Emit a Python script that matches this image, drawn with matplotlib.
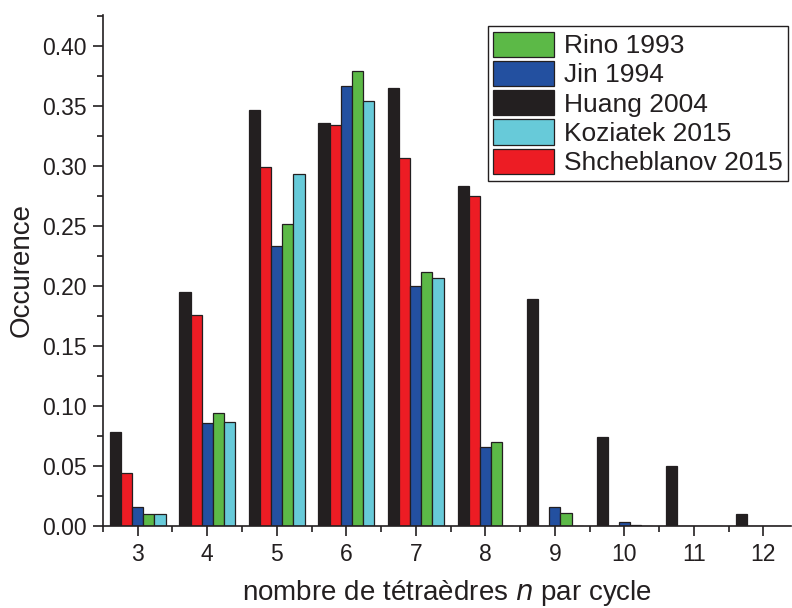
import numpy as np
import matplotlib
matplotlib.use('Agg')
import matplotlib.pyplot as plt
from matplotlib.ticker import MultipleLocator


# number of tetrahedra per ring
n_values = [3, 4, 5, 6, 7, 8, 9, 10, 11, 12]

# ring statistics, one list per study
huang_2004 = [0.078, 0.195, 0.347, 0.336, 0.365, 0.283, 0.189, 0.074, 0.050, 0.010]
shcheblanov_2015 = [0.044, 0.176, 0.299, 0.334, 0.307, 0.275, 0.0, 0.0, 0.0, 0.0]
jin_1994 = [0.016, 0.086, 0.233, 0.367, 0.200, 0.066, 0.016, 0.003, 0.0, 0.0]
rino_1993 = [0.010, 0.094, 0.252, 0.379, 0.212, 0.070, 0.011, 0.001, 0.0, 0.0]
koziatek_2015 = [0.010, 0.087, 0.293, 0.354, 0.207, 0.0, 0.0, 0.0, 0.0, 0.0]

TEXT_COLOR = '#231f20'


def graph():
    plt.rcParams['font.family'] = ['Liberation Sans', 'DejaVu Sans']
    plt.rcParams['text.color'] = TEXT_COLOR
    plt.rcParams['axes.labelcolor'] = TEXT_COLOR
    plt.rcParams['xtick.color'] = TEXT_COLOR
    plt.rcParams['ytick.color'] = TEXT_COLOR

    fig = plt.figure(figsize=(7.92, 6.08), dpi=100)
    ax = fig.add_axes([0.1300, 0.1349, 0.8690, 0.8404])

    # bars in the drawing order (left to right inside one group)
    series = [
        (huang_2004, '#231f20', 'Huang 2004'),
        (shcheblanov_2015, '#ed1c24', 'Shcheblanov 2015'),
        (jin_1994, '#2350a0', 'Jin 1994'),
        (rino_1993, '#5cb947', 'Rino 1993'),
        (koziatek_2015, '#67cad9', 'Koziatek 2015'),
    ]
    width = 0.16
    x = np.array(n_values, dtype=float)
    handles = {}
    for i, (vals, color, label) in enumerate(series):
        offset = (i - 2) * width
        bars = ax.bar(x + offset, vals, width, color=color,
                      edgecolor=TEXT_COLOR, linewidth=0.9, label=label)
        handles[label] = bars

    # legend uses a different order than the bars
    legend_order = ['Rino 1993', 'Jin 1994', 'Huang 2004',
                    'Koziatek 2015', 'Shcheblanov 2015']
    leg = ax.legend([handles[k] for k in legend_order], legend_order,
                    loc='upper right', bbox_to_anchor=(0.9956, 0.978),
                    borderaxespad=0, fontsize=19, frameon=True, fancybox=False,
                    edgecolor=TEXT_COLOR, framealpha=1, borderpad=0.2,
                    handlelength=2.3, handleheight=1.1, labelspacing=0.1,
                    handletextpad=0.4)
    leg.get_frame().set_linewidth(1.0)

    # axis ranges and ticks
    ax.set_xlim(2.5, 12.4)
    ax.set_ylim(0, 0.4258)
    ax.set_xticks(n_values)
    ax.xaxis.set_minor_locator(MultipleLocator(0.5))
    ax.yaxis.set_major_locator(MultipleLocator(0.05))
    ax.yaxis.set_minor_locator(MultipleLocator(0.025))
    ax.yaxis.set_major_formatter(matplotlib.ticker.FormatStrFormatter('%.2f'))
    ax.tick_params(axis='both', which='major', direction='out', length=7,
                   width=1.2, labelsize=16.5, pad=5)
    ax.tick_params(axis='both', which='minor', direction='out', length=4,
                   width=1.2)

    # only left and bottom spines
    ax.spines['top'].set_visible(False)
    ax.spines['right'].set_visible(False)
    ax.spines['left'].set_linewidth(1.2)
    ax.spines['bottom'].set_linewidth(1.2)
    ax.spines['left'].set_color(TEXT_COLOR)
    ax.spines['bottom'].set_color(TEXT_COLOR)

    ax.set_xlabel('nombre de tétraèdres $\\mathit{n}$ par cycle', fontsize=20,
                  labelpad=9)
    ax.set_ylabel('Occurence', fontsize=20, labelpad=5)

    fig.savefig('out.png', dpi=100)


if __name__ == "__main__":
    graph()
